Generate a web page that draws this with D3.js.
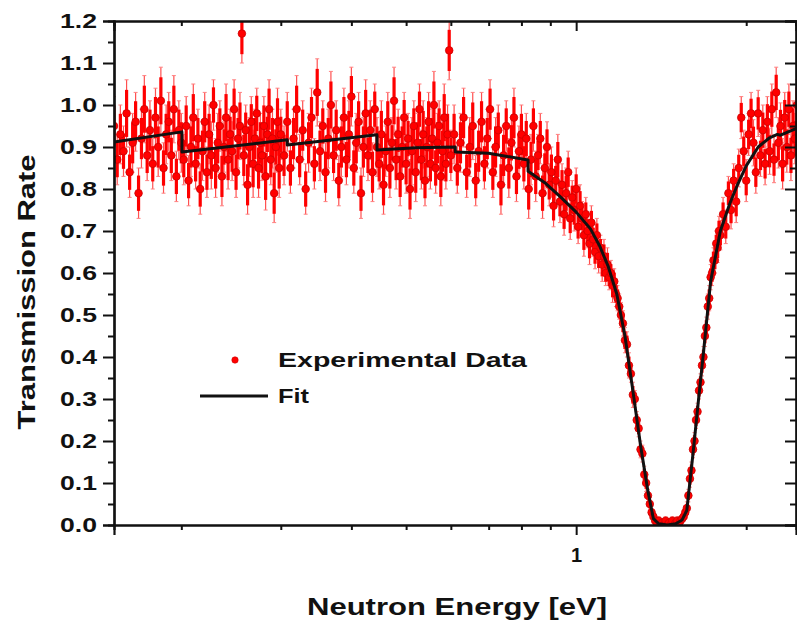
<!DOCTYPE html>
<html>
<head>
<meta charset="utf-8">
<script src="https://cdn.jsdelivr.net/npm/d3@7"></script>
<style>
  body { margin: 0; background: #fff; }
  svg text { font-family: "Liberation Sans", Arial, sans-serif; font-weight: bold; fill: #111; }
  .axis path, .axis line { stroke: #111; }
</style>
</head>
<body>
<div id="chart"></div>
<script>
// measured energies (eV)
var energy = [
  0.152,0.154,0.156,0.158,0.160,0.162,0.164,0.166,0.168,0.170,
  0.172,0.174,0.176,0.178,0.180,0.182,0.184,0.186,0.188,0.190,
  0.192,0.194,0.196,0.198,0.200,0.202,0.204,0.206,0.208,0.210,
  0.212,0.214,0.216,0.218,0.220,0.222,0.224,0.226,0.228,0.230,
  0.232,0.234,0.236,0.238,0.240,0.242,0.244,0.246,0.248,0.250,
  0.252,0.254,0.256,0.258,0.260,0.262,0.264,0.266,0.268,0.270,
  0.272,0.274,0.276,0.278,0.280,0.282,0.284,0.286,0.288,0.290,
  0.292,0.294,0.296,0.298,0.300,
  0.304,0.308,0.312,0.316,0.320,0.324,0.328,0.332,0.336,0.340,
  0.344,0.348,0.352,0.356,0.360,0.364,0.368,0.372,0.376,0.380,
  0.384,0.388,0.392,0.396,0.400,0.404,0.408,0.412,0.416,0.420,
  0.424,0.428,0.432,0.436,0.440,0.444,0.448,0.452,0.456,0.460,
  0.464,0.468,0.472,0.476,0.480,0.484,0.488,0.492,0.496,0.500,
  0.504,0.508,0.512,0.516,0.520,0.524,0.528,0.532,0.536,0.540,
  0.544,0.548,0.552,0.556,0.560,0.564,0.568,0.572,0.576,0.580,
  0.584,0.588,0.592,0.596,0.600,
  0.608,0.616,0.624,0.632,0.640,0.648,0.656,0.664,0.672,0.680,
  0.688,0.696,0.704,0.712,0.720,0.728,0.736,0.744,0.752,0.760,
  0.768,0.776,0.784,0.792,0.800,0.808,0.816,0.824,0.832,0.840,
  0.848,0.856,0.864,0.872,0.880,0.888,0.896,0.904,0.912,0.920,
  0.928,0.936,0.944,0.952,0.960,0.968,0.976,0.984,0.992,1.000,
  1.008,1.016,1.024,1.032,1.040,1.048,1.056,1.064,1.072,1.080,
  1.088,1.096,1.104,1.112,1.120,1.128,1.136,1.144,1.152,1.160,
  1.168,1.176,1.184,1.192,1.200,
  1.21,1.22,1.23,1.24,1.25,1.26,1.27,1.28,1.29,1.30,
  1.31,1.32,1.33,1.34,1.35,1.36,1.37,1.38,1.39,1.40,
  1.41,1.42,1.43,1.44,1.45,1.46,1.47,1.48,1.49,1.50,
  1.51,1.52,1.53,1.54,1.55,1.56,1.57,1.58,1.59,1.60,
  1.61,1.62,1.63,1.64,1.65,1.66,1.67,1.68,1.69,1.70,
  1.71,1.72,1.73,1.74,1.75,1.76,1.77,1.78,1.79,1.80,
  1.82,1.84,1.86,1.88,1.90,1.92,1.94,1.96,1.98,2.00,
  2.02,2.04,2.06,2.08,2.10,2.12,2.14,2.16,2.18,2.20,
  2.22,2.24,2.26,2.28,2.30,2.32,2.34,2.36,2.38,2.40,
  2.42,2.44,2.46
];

// measured transmission
var transmission = [
  0.95,0.87,0.93,0.89,0.98,0.84,0.91,0.96,0.79,0.92,
  0.99,0.88,0.94,0.86,0.97,0.90,1.01,0.85,0.93,0.96,
  0.88,0.99,0.83,0.94,0.91,0.87,0.95,0.82,0.90,0.97,
  0.86,0.92,0.80,0.89,0.96,0.84,0.93,0.88,1.00,0.85,
  0.91,0.95,0.83,0.90,0.97,0.87,0.93,0.89,0.99,0.84,
  0.92,0.95,1.17,0.88,0.94,0.81,0.90,0.96,0.86,0.92,
  0.98,0.85,0.91,0.88,0.95,0.83,0.93,0.99,0.87,0.92,
  0.79,0.90,0.96,0.85,0.93,
  0.88,0.96,0.85,0.92,0.99,0.87,0.94,0.80,0.91,0.97,
  0.86,1.03,0.89,0.95,0.84,0.92,1.00,0.88,0.94,0.82,
  0.90,0.97,0.87,0.93,1.02,0.85,0.91,0.96,0.79,0.90,
  0.98,0.88,0.94,0.84,0.99,0.90,0.86,0.93,0.81,0.89,
  0.96,0.85,0.91,1.01,0.87,0.93,0.83,0.90,0.97,0.86,
  0.92,0.80,0.89,0.95,0.84,0.91,0.99,0.87,0.93,0.82,
  0.90,0.96,0.86,0.92,1.00,0.85,0.91,0.95,0.83,0.89,
  0.97,0.86,0.93,1.13,0.88,
  0.93,0.85,0.91,0.97,0.84,0.90,0.95,0.82,0.89,0.96,
  0.86,0.92,0.99,0.84,0.90,0.94,0.81,0.88,0.95,0.85,
  0.91,0.97,0.83,0.89,0.93,0.86,0.92,0.80,0.87,0.95,
  0.83,0.88,0.92,0.79,0.85,0.90,0.81,0.84,0.76,0.82,
  0.87,0.77,0.81,0.74,0.79,0.84,0.73,0.78,0.75,0.80,
  0.71,0.76,0.73,0.69,0.74,0.70,0.67,0.72,0.68,0.65,
  0.69,0.64,0.66,0.62,0.64,0.60,0.62,0.59,0.60,0.57,
  0.58,0.55,0.54,0.52,0.50,
  0.48,0.44,0.43,0.38,0.36,0.31,0.30,0.25,0.23,0.18,
  0.17,0.12,0.10,0.07,0.05,0.03,0.02,0.01,0.00,0.01,
  0.00,0.005,0.00,0.01,0.00,0.005,0.00,0.01,0.00,0.005,
  0.01,0.00,0.01,0.015,0.02,0.03,0.04,0.07,0.11,0.13,
  0.18,0.20,0.25,0.27,0.32,0.34,0.38,0.40,0.45,0.47,
  0.52,0.54,0.59,0.60,0.63,0.63,0.67,0.66,0.70,0.69,
  0.74,0.71,0.79,0.75,0.82,0.77,0.85,0.97,0.89,0.82,
  0.93,0.98,0.91,0.84,0.98,0.88,0.94,0.86,0.96,0.89,
  0.99,0.87,1.03,0.91,0.95,0.86,0.97,0.90,0.99,0.88,
  0.95,0.92,1.00
];

// error bar half-lengths
var errors = [
  0.07,0.06,0.07,0.06,0.08,0.06,0.07,0.07,0.06,0.07,
  0.08,0.06,0.07,0.06,0.07,0.07,0.08,0.06,0.07,0.07,
  0.06,0.08,0.06,0.07,0.07,0.06,0.07,0.06,0.07,0.08,
  0.06,0.07,0.06,0.07,0.07,0.06,0.07,0.08,0.06,0.07,
  0.07,0.06,0.07,0.06,0.08,0.07,0.06,0.07,0.07,0.06,
  0.07,0.08,0.07,0.07,0.06,0.07,0.07,0.06,0.08,0.07,
  0.06,0.07,0.07,0.06,0.07,0.08,0.06,0.07,0.06,0.07,
  0.07,0.06,0.08,0.07,0.06,
  0.07,0.07,0.06,0.07,0.08,0.06,0.07,0.06,0.07,0.07,
  0.06,0.08,0.07,0.06,0.07,0.07,0.08,0.06,0.07,0.06,
  0.07,0.07,0.06,0.08,0.07,0.06,0.07,0.07,0.06,0.07,
  0.08,0.06,0.07,0.07,0.06,0.07,0.06,0.08,0.07,0.06,
  0.07,0.07,0.06,0.08,0.07,0.06,0.07,0.07,0.06,0.07,
  0.06,0.07,0.08,0.06,0.07,0.07,0.06,0.07,0.08,0.06,
  0.07,0.07,0.06,0.07,0.08,0.06,0.07,0.06,0.07,0.07,
  0.08,0.06,0.07,0.07,0.06,
  0.07,0.06,0.07,0.07,0.06,0.07,0.08,0.06,0.07,0.07,
  0.06,0.07,0.07,0.06,0.07,0.06,0.07,0.07,0.06,0.07,
  0.06,0.07,0.06,0.06,0.07,0.06,0.06,0.07,0.06,0.06,
  0.06,0.05,0.06,0.06,0.05,0.06,0.05,0.06,0.05,0.05,
  0.06,0.05,0.05,0.05,0.06,0.05,0.05,0.04,0.05,0.05,
  0.04,0.05,0.04,0.05,0.04,0.04,0.05,0.04,0.04,0.04,
  0.04,0.04,0.03,0.04,0.04,0.03,0.04,0.03,0.03,0.04,
  0.03,0.03,0.03,0.03,0.03,
  0.03,0.03,0.03,0.03,0.02,0.03,0.02,0.02,0.02,0.02,
  0.02,0.02,0.02,0.015,0.015,0.015,0.01,0.01,0.01,0.01,
  0.01,0.01,0.01,0.01,0.01,0.01,0.01,0.01,0.01,0.01,
  0.01,0.01,0.01,0.01,0.01,0.015,0.015,0.015,0.02,0.02,
  0.02,0.02,0.02,0.02,0.02,0.02,0.025,0.025,0.025,0.025,
  0.03,0.03,0.03,0.03,0.03,0.03,0.03,0.035,0.035,0.035,
  0.04,0.04,0.04,0.045,0.04,0.05,0.045,0.05,0.05,0.05,
  0.05,0.05,0.055,0.05,0.055,0.05,0.06,0.05,0.06,0.055,
  0.06,0.055,0.06,0.06,0.055,0.06,0.06,0.06,0.06,0.06,
  0.06,0.06,0.06
];

// fit curve
var fitEnergy = [0.152, 0.2005, 0.2005, 0.308, 0.308, 0.444, 0.444, 0.52, 0.611, 0.611,
  0.70, 0.822, 0.822, 0.88, 0.94, 1.0, 1.06, 1.10, 1.14, 1.18, 1.22, 1.26, 1.30, 1.34,
  1.37, 1.40, 1.45, 1.50, 1.54, 1.57, 1.61, 1.65, 1.68, 1.73, 1.80, 1.87, 1.93, 2.0,
  2.1, 2.2, 2.27, 2.30, 2.46];
var fitValue = [0.912, 0.936, 0.888, 0.917, 0.905, 0.929, 0.893, 0.898, 0.900, 0.888,
  0.885, 0.869, 0.842, 0.815, 0.78, 0.745, 0.705, 0.665, 0.615, 0.55, 0.45, 0.32, 0.19, 0.08,
  0.015, 0.003, 0.0, 0.003, 0.012, 0.035, 0.17, 0.31, 0.41, 0.58, 0.70, 0.765, 0.81, 0.855,
  0.90, 0.922, 0.93, 0.928, 0.945];

var yMajor = [0, 0.1, 0.2, 0.3, 0.4, 0.5, 0.6, 0.7, 0.8, 0.9, 1.0, 1.1, 1.2];
var yMinor = [0.05, 0.15, 0.25, 0.35, 0.45, 0.55, 0.65, 0.75, 0.85, 0.95, 1.05, 1.15];
var xMajor = [1];
var xMinor = [0.2, 0.3, 0.4, 0.5, 0.6, 0.7, 0.8, 0.9, 2];

var W = 797, H = 623;
var margin = {top: 21, right: 1, bottom: 98, left: 114};
var width = W - margin.left - margin.right,
    height = H - margin.top - margin.bottom;

var svg = d3.select("#chart").append("svg")
  .attr("width", W)
  .attr("height", H);

var g = svg.append("g")
  .attr("transform", "translate(" + margin.left + "," + margin.top + ")");

var x = d3.scaleLog().domain([0.152, 2.45]).range([0, width]);
var y = d3.scaleLinear().domain([0, 1.2]).range([height, 0]);

g.append("clipPath").attr("id", "clip")
  .append("rect").attr("width", width).attr("height", height);

var data = energy.map(function(e, i) {
  return {e: e, t: transmission[i], err: errors[i]};
});

var plot = g.append("g").attr("clip-path", "url(#clip)");

// error bars: thin full-length bar with caps, then a thicker core
var bars = plot.append("g");

bars.selectAll("line.bar")
  .data(data)
  .enter().append("line")
    .attr("class", "bar")
    .attr("x1", function(d) { return x(d.e); })
    .attr("x2", function(d) { return x(d.e); })
    .attr("y1", function(d) { return y(d.t - d.err); })
    .attr("y2", function(d) { return y(d.t + d.err); })
    .attr("stroke", "#ff5050")
    .attr("stroke-width", 1.2);

bars.selectAll("line.capTop")
  .data(data)
  .enter().append("line")
    .attr("class", "capTop")
    .attr("x1", function(d) { return x(d.e) - 2; })
    .attr("x2", function(d) { return x(d.e) + 2; })
    .attr("y1", function(d) { return y(d.t + d.err); })
    .attr("y2", function(d) { return y(d.t + d.err); })
    .attr("stroke", "#ff8080")
    .attr("stroke-width", 1);

bars.selectAll("line.capBot")
  .data(data)
  .enter().append("line")
    .attr("class", "capBot")
    .attr("x1", function(d) { return x(d.e) - 2; })
    .attr("x2", function(d) { return x(d.e) + 2; })
    .attr("y1", function(d) { return y(d.t - d.err); })
    .attr("y2", function(d) { return y(d.t - d.err); })
    .attr("stroke", "#ff8080")
    .attr("stroke-width", 1);

bars.selectAll("line.core")
  .data(data)
  .enter().append("line")
    .attr("class", "core")
    .attr("x1", function(d) { return x(d.e); })
    .attr("x2", function(d) { return x(d.e); })
    .attr("y1", function(d) { return y(d.t - d.err * 0.7); })
    .attr("y2", function(d) { return y(d.t + d.err * 0.7); })
    .attr("stroke", "#ff0000")
    .attr("stroke-width", 3.2);

// data points
plot.selectAll("circle.pt")
  .data(data)
  .enter().append("circle")
    .attr("class", "pt")
    .attr("cx", function(d) { return x(d.e); })
    .attr("cy", function(d) { return y(d.t); })
    .attr("r", 3.8)
    .attr("fill", "#ff0000")
    .attr("stroke", "#cc0000")
    .attr("stroke-width", 0.8);

// fit line
var line = d3.line()
  .x(function(d, i) { return x(fitEnergy[i]); })
  .y(function(d) { return y(d); });

plot.append("path")
  .datum(fitValue)
  .attr("fill", "none")
  .attr("stroke", "#111")
  .attr("stroke-width", 3)
  .attr("stroke-linejoin", "round")
  .attr("d", line);

// axes
var yAxis = g.append("g").attr("class", "axis")
  .call(d3.axisLeft(y).tickValues(yMajor).tickSize(11).tickPadding(6)
    .tickFormat(d3.format(".1f")));
yAxis.selectAll("text")
  .style("font-size", "20px")
  .attr("textLength", 37)
  .attr("lengthAdjust", "spacingAndGlyphs");

g.append("g").attr("class", "axis")
  .call(d3.axisLeft(y).tickValues(yMinor).tickSize(6).tickFormat(""));

var rightAxis = g.append("g").attr("class", "axis")
  .attr("transform", "translate(" + width + ",0)");
rightAxis.call(d3.axisLeft(y).tickValues(yMajor).tickSize(11).tickFormat(""));
rightAxis.append("g").call(d3.axisLeft(y).tickValues(yMinor).tickSize(6).tickFormat(""));

var bottomAxis = g.append("g").attr("class", "axis")
  .attr("transform", "translate(0," + height + ")");
bottomAxis.call(d3.axisBottom(x).tickValues(xMajor).tickSize(10).tickPadding(13)
  .tickFormat(d3.format("d")));
bottomAxis.selectAll("text").style("font-size", "20px");
bottomAxis.append("g").call(d3.axisBottom(x).tickValues(xMinor).tickSize(5).tickFormat(""));

var topAxis = g.append("g").attr("class", "axis");
topAxis.call(d3.axisBottom(x).tickValues(xMajor).tickSize(10).tickFormat(""));
topAxis.append("g").call(d3.axisBottom(x).tickValues(xMinor).tickSize(5).tickFormat(""));

g.selectAll(".axis path, .axis line").attr("stroke", "#111").attr("stroke-width", 2);
g.selectAll(".axis .domain").attr("stroke-width", 2.2);

// axis titles
svg.append("text")
  .attr("x", 457)
  .attr("y", 615)
  .attr("text-anchor", "middle")
  .attr("textLength", 300)
  .attr("lengthAdjust", "spacingAndGlyphs")
  .style("font-size", "24px")
  .text("Neutron Energy [eV]");

svg.append("text")
  .attr("transform", "translate(35,292) rotate(-90)")
  .attr("text-anchor", "middle")
  .attr("textLength", 275)
  .attr("lengthAdjust", "spacingAndGlyphs")
  .style("font-size", "24px")
  .text("Transmission Rate");

// legend
var legend = svg.append("g");
legend.append("circle")
  .attr("cx", 235).attr("cy", 360).attr("r", 3.2)
  .attr("fill", "#ff0000").attr("stroke", "#cc0000").attr("stroke-width", 0.6);
legend.append("text")
  .attr("x", 278).attr("y", 367)
  .attr("textLength", 249)
  .attr("lengthAdjust", "spacingAndGlyphs")
  .style("font-size", "20px")
  .text("Experimental Data");
legend.append("line")
  .attr("x1", 200).attr("x2", 268).attr("y1", 396).attr("y2", 396)
  .attr("stroke", "#111").attr("stroke-width", 3);
legend.append("text")
  .attr("x", 278).attr("y", 403)
  .attr("textLength", 31)
  .attr("lengthAdjust", "spacingAndGlyphs")
  .style("font-size", "20px")
  .text("Fit");
</script>
</body>
</html>
